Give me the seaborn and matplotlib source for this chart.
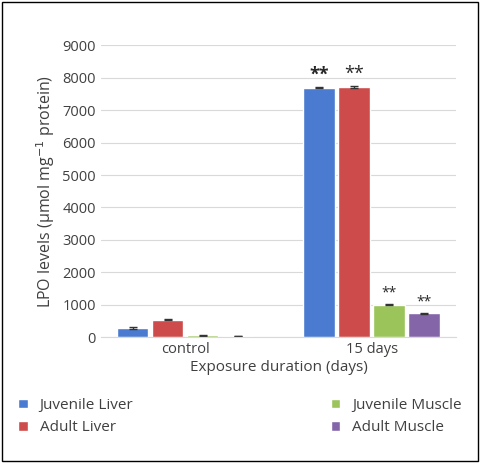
import matplotlib
matplotlib.use("Agg")
import matplotlib.pyplot as plt
import seaborn as sns
import pandas as pd
import numpy as np

groups = ["control", "15 days"]
series = ["Juvenile Liver", "Adult Liver", "Juvenile Muscle", "Adult Muscle"]
juv_liver = [280, 7700]
adult_liver = [540, 7720]
juv_muscle = [60, 1000]
adult_muscle = [30, 730]
errors = [[20, 30], [25, 30], [15, 25], [10, 20]]
stars = ["**", "**", "**", "**"]
colors = ["#4a7bd0", "#cd4b4b", "#9bc45a", "#8466a8"]

sns.set_style("white")
plt.rcParams['font.family'] = ['Open Sans', 'DejaVu Sans']

rows = []
for s, vals in zip(series, [juv_liver, adult_liver, juv_muscle, adult_muscle]):
    for g, v in zip(groups, vals):
        rows.append({"group": g, "series": s, "value": v})
df = pd.DataFrame(rows)

fig = plt.figure(figsize=(4.8, 4.63), dpi=100)
ax = fig.add_axes([0.21, 0.272, 0.74, 0.63])
sns.barplot(data=df, x="group", y="value", hue="series", palette=colors,
            ax=ax, width=0.75, gap=0.1, errorbar=None, saturation=1)
ax.set_ylim(0, 9000)
ax.set_yticks(range(0, 9001, 1000))
ax.yaxis.grid(True, color="#d9d9d9", lw=0.8)
ax.set_axisbelow(True)
for sp in ax.spines.values():
    sp.set_visible(False)
ax.spines["bottom"].set_visible(True)
ax.spines["bottom"].set_color("#d9d9d9")
ax.tick_params(length=0, labelsize=10.5, colors="#404040")
ax.set_xlabel("Exposure duration (days)", fontsize=11, color="#404040", labelpad=2)
ax.set_ylabel("LPO levels (µmol mg$^{-1}$ protein)", fontsize=11.5, color="#404040")

bar_conts = list(ax.containers)
for i, cont in enumerate(bar_conts):
    for j, bar in enumerate(cont):
        x = bar.get_x() + bar.get_width() / 2
        h = bar.get_height()
        ax.errorbar(x, h, yerr=errors[i][j], color="#333333", capsize=3, lw=1)
        if j == 1:
            fs = 13 if i < 2 else 10
            ax.text(x, h + 120, stars[i], ha="center", va="bottom", fontsize=fs,
                    fontweight="bold" if i == 0 else "normal")

handles, labels = ax.get_legend_handles_labels()
ax.legend_.remove()
fig.legend(handles, labels, loc="lower left", bbox_to_anchor=(0.0, 0.02, 1, 0.1),
           ncol=2, mode="expand", frameon=False, fontsize=11, handlelength=0.6,
           handleheight=0.6, columnspacing=1, labelcolor="#404040", borderaxespad=0.8)
fig.patches.append(plt.Rectangle((0.005, 0.005), 0.99, 0.99, transform=fig.transFigure,
                                 fill=False, ec="black", lw=1))
fig.savefig("out.png", dpi=100)
